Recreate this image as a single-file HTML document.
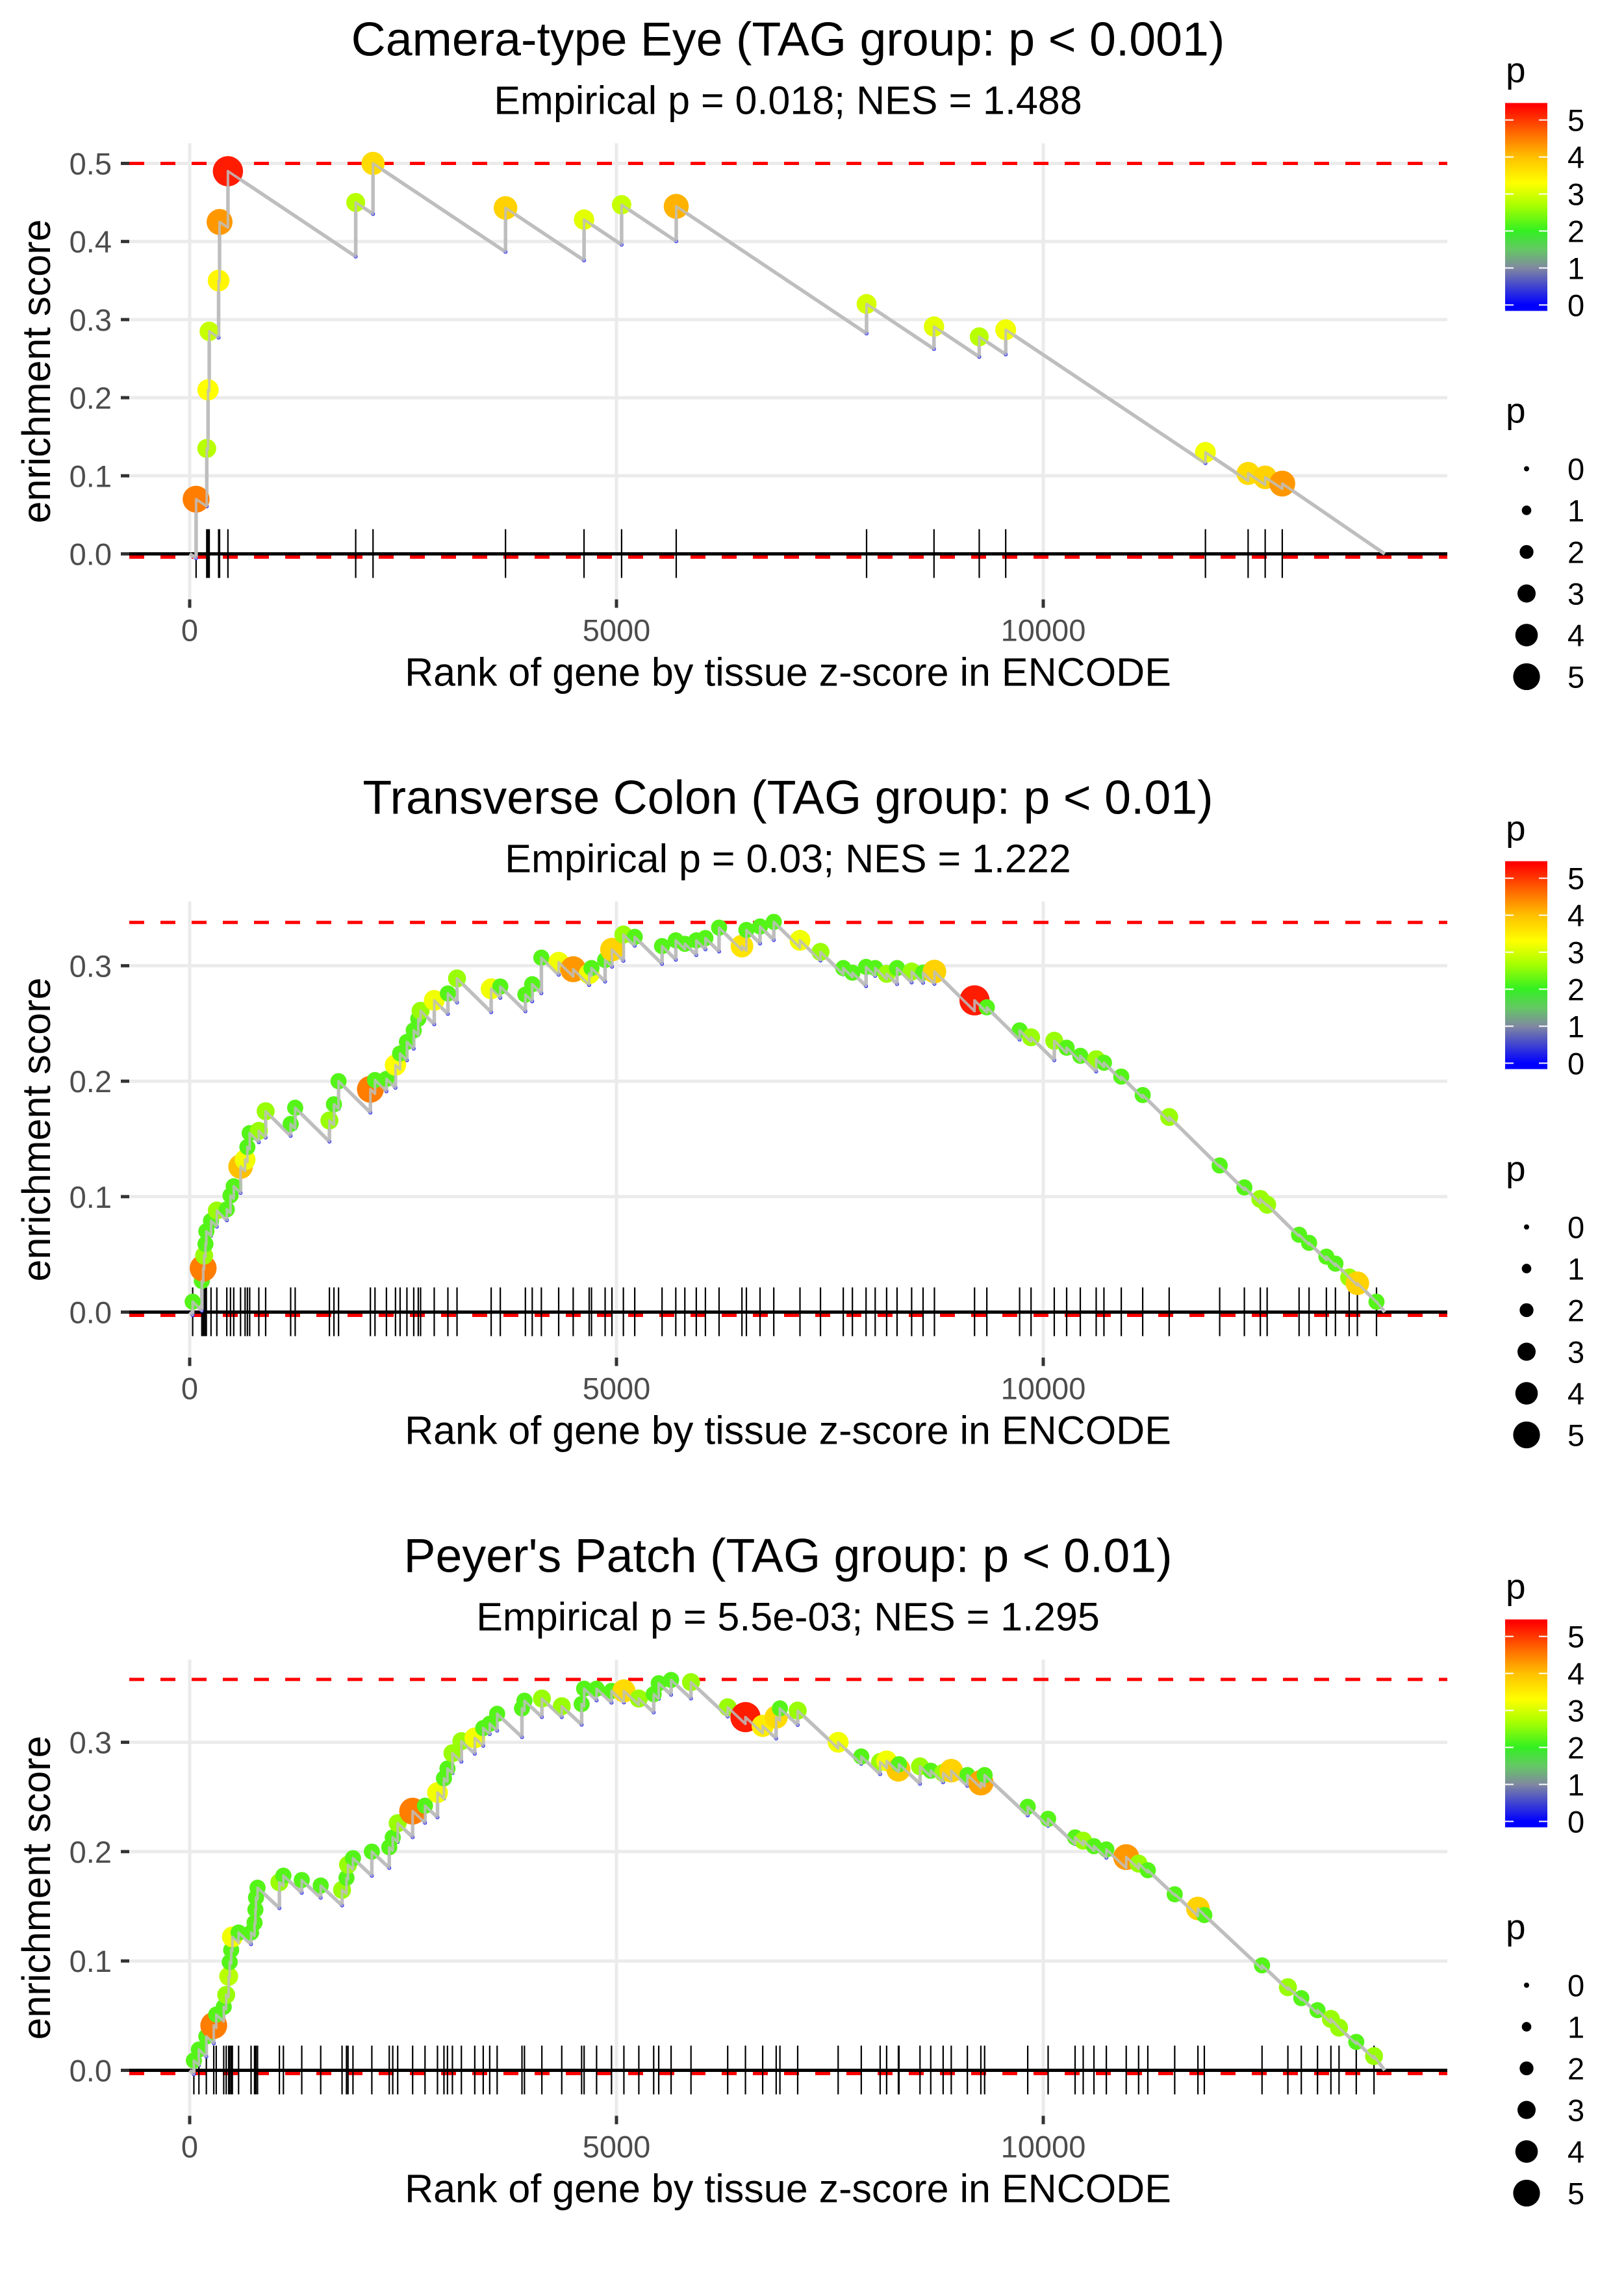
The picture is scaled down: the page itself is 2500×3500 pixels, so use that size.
<!DOCTYPE html>
<html><head><meta charset="utf-8"><style>
html,body{margin:0;padding:0;background:#fff;}
svg{display:block;font-family:"Liberation Sans",Arial,sans-serif;}
</style></head><body>
<svg id="chart" width="2500" height="3500" viewBox="0 0 2500 3500" xmlns="http://www.w3.org/2000/svg"></svg>
<script>
// ---------- data ----------
const panelTitles = ["Camera-type Eye (TAG group: p < 0.001)", "Transverse Colon (TAG group: p < 0.01)", "Peyer's Patch (TAG group: p < 0.01)"];
const panelSubtitles = ["Empirical p = 0.018; NES = 1.488", "Empirical p = 0.03; NES = 1.222", "Empirical p = 5.5e-03; NES = 1.295"];
const maxES = [0.5, 0.3375, 0.3575];
const yTicks1 = [0, 0.1, 0.2, 0.3, 0.4, 0.5];
const yTicks23 = [0, 0.1, 0.2, 0.3];
const xTicks = [0, 5000, 10000];
const nGenes = 14000;
const legendTicks = [0, 1, 2, 3, 4, 5];

const eyeRanks = [75,200,215,229,339,350,448,1945,2148,3700,4620,5060,5700,7930,8720,9250,9560,11900,12400,12600,12800];
const eyeES = [0.07,0.135,0.21,0.285,0.35,0.425,0.49,0.45,0.5,0.443,0.428,0.447,0.445,0.32,0.291,0.278,0.287,0.13,0.103,0.098,0.09];
const eyeP = [4.5,2.8,3.3,2.9,3.4,4.3,5.2,2.8,3.7,3.8,3.1,2.9,4.1,3.0,3.1,2.8,3.2,3.2,3.7,3.8,4.3];

const colonRanks = [35,142,158,169,185,195,250,318,435,478,516,596,649,676,703,810,890,1183,1236,1637,1690,1744,2117,2171,2305,2411,2465,2545,2625,2678,2705,2865,3025,3132,3532,3639,3933,4013,4120,4323,4493,4680,4707,4867,4947,5081,5214,5534,5695,5801,5935,6042,6202,6470,6522,6682,6843,7150,7390,7657,7764,7924,8031,8165,8287,8458,8592,8725,9195,9339,9723,9857,10129,10274,10434,10620,10711,10914,11165,11475,12067,12356,12543,12623,12997,13114,13317,13423,13584,13680,13904];
const colonES = [0.009,0.027,0.038,0.049,0.059,0.070,0.079,0.088,0.089,0.101,0.109,0.126,0.132,0.143,0.155,0.157,0.174,0.163,0.177,0.166,0.180,0.200,0.193,0.201,0.202,0.214,0.224,0.234,0.244,0.254,0.261,0.270,0.276,0.289,0.280,0.282,0.275,0.284,0.307,0.303,0.297,0.293,0.298,0.305,0.314,0.327,0.325,0.317,0.322,0.319,0.322,0.324,0.333,0.317,0.331,0.334,0.338,0.322,0.312,0.298,0.294,0.299,0.298,0.293,0.298,0.295,0.294,0.295,0.270,0.264,0.244,0.238,0.235,0.229,0.222,0.219,0.216,0.204,0.188,0.169,0.127,0.108,0.098,0.093,0.067,0.060,0.048,0.042,0.030,0.025,0.009];
const colonP = [2.2,2.2,4.5,2.6,2.2,2.2,2.2,2.6,2.2,2.2,2.2,4.0,3.2,2.2,2.2,2.6,2.6,2.2,2.2,2.6,2.2,2.2,4.5,2.2,2.2,3.3,2.2,2.2,2.2,2.2,2.6,3.2,2.2,2.6,3.2,2.2,2.2,2.2,2.2,3.2,4.3,3.2,2.2,2.2,3.8,2.6,2.2,2.2,2.2,2.2,2.2,2.2,2.2,3.6,2.2,2.2,2.2,3.2,2.6,2.2,2.2,2.2,2.2,2.6,2.2,2.6,2.2,3.8,5.2,2.2,2.2,2.6,2.6,2.2,2.2,2.6,2.2,2.2,2.2,2.6,2.2,2.2,2.6,2.6,2.2,2.2,2.2,2.2,2.6,3.8,2.2];

const patchRanks = [49,108,195,282,311,399,428,457,469,486,500,573,719,760,770,777,795,1051,1098,1313,1535,1785,1837,1855,1913,2134,2338,2379,2437,2612,2757,2903,2979,3020,3078,3183,3340,3439,3515,3602,3893,3922,4126,4359,4592,4621,4767,4942,5087,5262,5436,5495,5640,5873,6303,6511,6713,6871,6915,7123,7597,7868,8089,8165,8303,8310,8556,8682,8827,8922,9111,9269,9313,9818,10057,10373,10468,10594,10739,10972,11117,11225,11540,11812,11887,12563,12866,13023,13213,13370,13465,13667,13875];
const patchES = [0.009,0.019,0.031,0.041,0.051,0.058,0.069,0.086,0.099,0.110,0.122,0.126,0.126,0.135,0.147,0.158,0.167,0.172,0.178,0.174,0.169,0.165,0.176,0.188,0.194,0.200,0.204,0.213,0.226,0.237,0.242,0.254,0.267,0.276,0.290,0.301,0.304,0.313,0.317,0.326,0.331,0.338,0.340,0.333,0.335,0.349,0.349,0.347,0.347,0.340,0.344,0.354,0.357,0.355,0.332,0.323,0.315,0.323,0.331,0.329,0.300,0.287,0.282,0.283,0.275,0.280,0.278,0.274,0.272,0.274,0.270,0.263,0.270,0.241,0.230,0.213,0.210,0.205,0.202,0.195,0.189,0.183,0.161,0.148,0.142,0.096,0.076,0.066,0.055,0.047,0.039,0.026,0.013];
const patchP = [2.2,2.2,2.2,4.5,2.2,2.2,2.6,2.8,2.2,2.2,3.2,2.2,2.2,2.2,2.2,2.2,2.2,2.6,2.2,2.2,2.2,2.6,2.2,2.6,2.2,2.2,2.2,2.2,2.6,4.5,2.2,3.2,2.2,2.2,2.6,2.6,3.2,2.2,2.2,2.2,2.2,2.2,2.6,2.6,2.2,2.2,2.2,2.2,3.7,2.6,2.2,2.2,2.2,2.6,2.6,5.2,3.5,3.7,2.2,2.6,3.2,2.2,2.6,3.2,3.9,2.2,2.6,2.2,2.6,3.8,2.2,4.2,2.2,2.2,2.2,2.2,2.6,2.2,2.2,4.3,2.6,2.2,2.2,3.8,2.2,2.2,2.6,2.2,2.2,2.6,2.6,2.2,2.6];

const panelRanks = [eyeRanks, colonRanks, patchRanks];
const panelES = [eyeES, colonES, patchES];
const panelP = [eyeP, colonP, patchP];

// ---------- layout ----------
const NS = "http://www.w3.org/2000/svg";
const svg = document.getElementById("chart");
const missSlope = 7.3e-5;
const panelZero = [852.5, 2019.5, 3186.5];
const panelUnit = [1202, 1777, 1683];
const xLeft = 199, xRight = 2228;
function xScale(r){ return 292 + r * 0.1314; }

const stops = [[0,[0,0,255]],[1,[128,136,160]],[1.5,[100,200,100]],[2,[51,240,34]],[2.7,[170,255,0]],[3.3,[255,255,0]],[4,[255,192,0]],[4.6,[255,112,0]],[5.4,[255,0,0]]];
function pColor(p){
  if(p<=stops[0][0]) return "rgb(0,0,255)";
  for(let i=1;i<stops.length;i++){
    if(p<=stops[i][0]){
      const a=stops[i-1],b=stops[i],t=(p-a[0])/(b[0]-a[0]);
      const c=a[1].map((v,k)=>Math.round(v+(b[1][k]-v)*t));
      return "rgb("+c.join(",")+")";
    }
  }
  return "rgb(255,0,0)";
}
function pRadius(p){ return 4.5 + 3.6 * p; }
function legRadius(p){ return 4 + 3.33 * p; }

function mk(tag, attrs, parent){
  const e = document.createElementNS(NS, tag);
  for (const k in attrs) e.setAttribute(k, attrs[k]);
  (parent || svg).appendChild(e);
  return e;
}

const defs = mk("defs", {});
const grad = mk("linearGradient", {id:"pgrad", x1:"0", y1:"1", x2:"0", y2:"0"}, defs);
const cbMin = -0.16, cbMax = 5.46;
stops.forEach(s => {
  mk("stop", {offset: ((s[0]-cbMin)/(cbMax-cbMin)).toFixed(4), "stop-color": pColor(s[0])}, grad);
});
mk("stop", {offset:"1", "stop-color":"rgb(255,0,0)"}, grad);

for (let k = 0; k < 3; k++) {
  const Z = panelZero[k], U = panelUnit[k];
  const yScale = v => Z - v * U;
  const g = mk("g", {});
  
  
  const top = Z - 632, bottom = Z + 70;

  const t = mk("text", {x:1213, y:Z-767, "font-size":73.5, "text-anchor":"middle", fill:"#000"}, g);
  t.textContent = panelTitles[k];
  
  
  const st = mk("text", {x:1213, y:Z-677, "font-size":61, "text-anchor":"middle", fill:"#000"}, g);
  st.textContent = panelSubtitles[k];
  
  

  const yt = k === 0 ? yTicks1 : yTicks23;
  yt.forEach(v => {
    const gl = mk("line", {x1:xLeft, x2:xRight, y1:yScale(v), y2:yScale(v), stroke:"#ebebeb", "stroke-width":5}, g);
    
    
  });
  xTicks.forEach(v => {
    const gl = mk("line", {x1:xScale(v), x2:xScale(v), y1:top, y2:bottom, stroke:"#ebebeb", "stroke-width":5}, g);
    
    
  });

  const dTop = mk("line", {x1:xLeft, x2:xRight, y1:yScale(maxES[k]), y2:yScale(maxES[k]), stroke:"#ff0000", "stroke-width":5, "stroke-dasharray":"23 25"}, g);
  
  
  const dBot = mk("line", {x1:xLeft, x2:xRight, y1:Z+5, y2:Z+5, stroke:"#ff0000", "stroke-width":5, "stroke-dasharray":"23 25"}, g);
  
  

  const ranks = panelRanks[k], es = panelES[k], ps = panelP[k];
  ranks.forEach(r => {
    const hl = mk("line", {x1:xScale(r), x2:xScale(r), y1:Z-38, y2:Z+37, stroke:"#000", "stroke-width":2.2}, g);
    
    
  });
  const zl = mk("line", {x1:xLeft, x2:xRight, y1:Z, y2:Z, stroke:"#000", "stroke-width":5}, g);
  
  

  let pts = [[0,0]], troughs = [];
  let prevR = 0, prevE = 0;
  for (let i = 0; i < ranks.length; i++) {
    let tr = prevE - missSlope * (ranks[i] - prevR);
    if (tr > es[i]) tr = es[i];
    pts.push([ranks[i], tr]); troughs.push([ranks[i], tr]);
    pts.push([ranks[i], es[i]]);
    prevR = ranks[i]; prevE = es[i];
  }
  pts.push([nGenes, 0]);
  const ptsStr = pts.map(p => xScale(p[0]).toFixed(1)+","+yScale(p[1]).toFixed(1)).join(" ");
  const curve = mk("polyline", {points: ptsStr, fill:"none", stroke:"#bebebe", "stroke-width":5.5, "stroke-linejoin":"round"}, g);
  
  

  troughs.forEach(tp => {
    const c = mk("circle", {cx:xScale(tp[0]), cy:yScale(tp[1]), r:3, fill:"#2020ff"}, g);
    
    
  });
  for (let i = 0; i < ranks.length; i++) {
    const c = mk("circle", {cx:xScale(ranks[i]), cy:yScale(es[i]), r:pRadius(ps[i]), fill:pColor(ps[i])}, g);
    
    
  }
  const curveTop = mk("polyline", {points: ptsStr, fill:"none", stroke:"#bebebe", "stroke-width":4, "stroke-linejoin":"round", opacity:0.85}, g);
  
  

  yt.forEach(v => {
    mk("line", {x1:186, x2:199, y1:yScale(v), y2:yScale(v), stroke:"#333", "stroke-width":5}, g);
    const lb = mk("text", {x:172, y:yScale(v)+17, "font-size":47, "text-anchor":"end", fill:"#4d4d4d"}, g);
    lb.textContent = v.toFixed(1);
    
    
  });
  xTicks.forEach(v => {
    mk("line", {x1:xScale(v), x2:xScale(v), y1:Z+70, y2:Z+83, stroke:"#333", "stroke-width":5}, g);
    const lb = mk("text", {x:xScale(v), y:Z+134, "font-size":47, "text-anchor":"middle", fill:"#4d4d4d"}, g);
    lb.textContent = String(v);
    
    
  });
  const xt = mk("text", {x:1213, y:Z+203, "font-size":61, "text-anchor":"middle", fill:"#000"}, g);
  xt.textContent = "Rank of gene by tissue z-score in ENCODE";
  
  
  const ytt = mk("text", {x:0, y:0, "font-size":61, "text-anchor":"middle", fill:"#000", transform:"translate(77," + (Z-281) + ") rotate(-90)"}, g);
  ytt.textContent = "enrichment score";
  
  

  const lt = mk("text", {x:2318, y:Z-726, "font-size":55, fill:"#000"}, g);
  lt.textContent = "p";
  
  
  const cb = mk("rect", {x:2317, y:Z-694, width:65, height:320, fill:"url(#pgrad)"}, g);
  
  
  const cbY = v => (Z-374) - (v - cbMin) / (cbMax - cbMin) * 320;
  legendTicks.forEach(v => {
    mk("line", {x1:2317, x2:2330, y1:cbY(v), y2:cbY(v), stroke:"#fff", "stroke-width":2}, g);
    mk("line", {x1:2369, x2:2382, y1:cbY(v), y2:cbY(v), stroke:"#fff", "stroke-width":2}, g);
    const lb = mk("text", {x:2413, y:cbY(v)+17, "font-size":47, fill:"#000"}, g);
    lb.textContent = String(v);
    
    
  });
  const sl = mk("text", {x:2318, y:Z-202, "font-size":55, fill:"#000"}, g);
  sl.textContent = "p";
  
  
  legendTicks.forEach((v, i) => {
    const cy = Z - 131 + 64 * i;
    const c = mk("circle", {cx:2350, cy:cy, r:legRadius(v), fill:"#000"}, g);
    
    
    const lb = mk("text", {x:2413, y:cy+17, "font-size":47, fill:"#000"}, g);
    lb.textContent = String(v);
    
    
  });
}
</script>
</body></html>
